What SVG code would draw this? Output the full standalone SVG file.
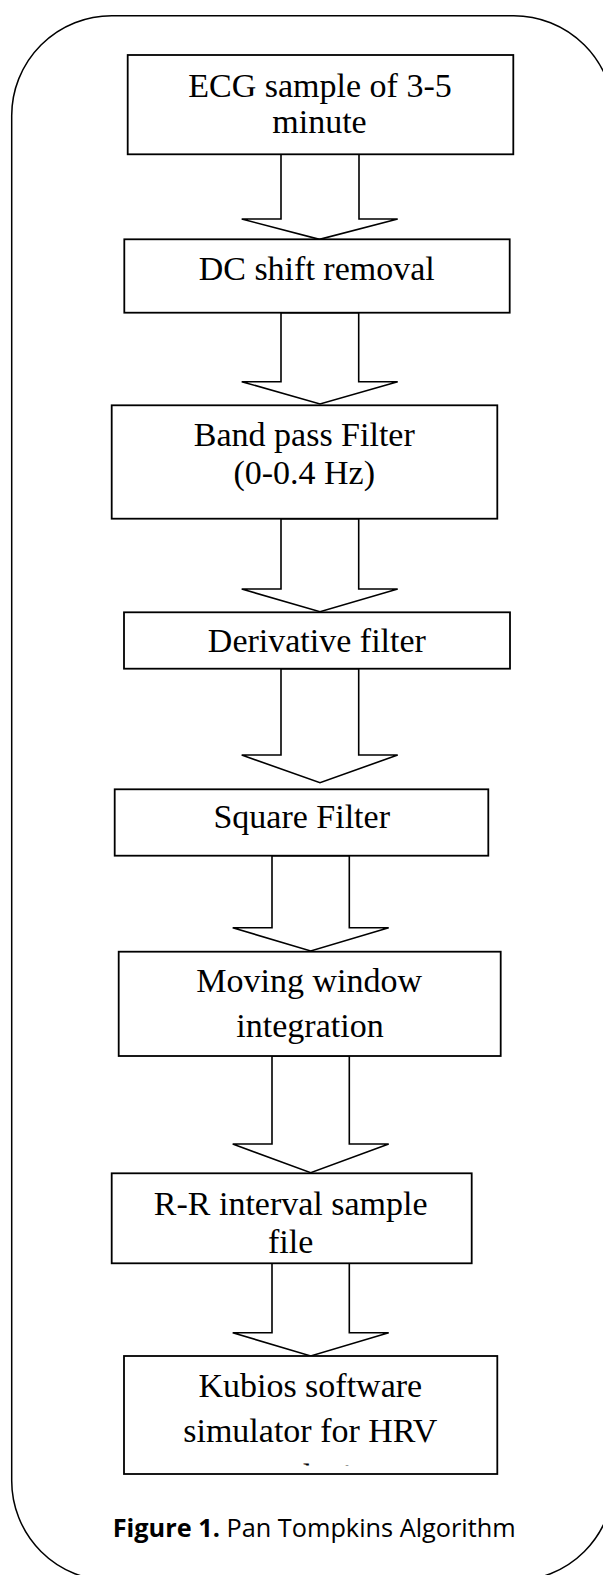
<svg xmlns="http://www.w3.org/2000/svg" width="603" height="1575" viewBox="0 0 603 1575">
<style>
.frame{fill:none;stroke:#000;stroke-width:1.5}
.box{fill:#fff;stroke:#000;stroke-width:1.8}
.arr{fill:#fff;stroke:#000;stroke-width:1.6;stroke-linejoin:miter}
.lbl{font-family:"Liberation Serif","Times New Roman",serif;font-size:34px;fill:#000;text-anchor:middle}
.cap{font-family:"Open Sans","Noto Sans",sans-serif;font-size:25.3px;fill:#000}
</style>
<defs>
<clipPath id="kclip"><rect x="124" y="1356" width="374" height="109.5"/></clipPath>
</defs>
<rect class="frame" x="11.7" y="15.7" width="602" height="1565" rx="100" ry="100"/>
<g id="connectors">
<polygon class="arr" points="281,154.3 281,219 241.7,219 319.5,239.3 397.7,219 359,219 359,154.3"/>
<polygon class="arr" points="281,312.7 281,381.7 241.7,381.7 320,404 397.7,381.7 358.7,381.7 358.7,312.7"/>
<polygon class="arr" points="281,518.7 281,589 241.7,589 320,611.7 397.7,589 358.7,589 358.7,518.7"/>
<polygon class="arr" points="281,668.7 281,755 241.7,755 320,782.7 397.7,755 358.7,755 358.7,668.7"/>
<polygon class="arr" points="272,855.7 272,927.7 232.7,927.7 310.7,951 388.7,927.7 349.3,927.7 349.3,855.7"/>
<polygon class="arr" points="272,1056 272,1144 232.7,1144 310.7,1172.7 388.7,1144 349.3,1144 349.3,1056"/>
<polygon class="arr" points="272,1263.3 272,1332.7 232.7,1332.7 310.7,1356 388.7,1332.7 349.3,1332.7 349.3,1263.3"/>
</g>
<g id="n1">
<rect class="box" x="127.7" y="55" width="385.6" height="99.3"/>
<text class="lbl" x="320" y="96.7">ECG sample of 3-5</text>
<text class="lbl" x="319.5" y="133.3">minute</text>
</g>
<g id="n2">
<rect class="box" x="124.3" y="239.3" width="385.4" height="73.4"/>
<text class="lbl" x="316.7" y="280">DC shift removal</text>
</g>
<g id="n3">
<rect class="box" x="111.7" y="405.3" width="385.6" height="113.4"/>
<text class="lbl" x="304.3" y="445.7">Band pass Filter</text>
<text class="lbl" x="304.2" y="484">(0-0.4 Hz)</text>
</g>
<g id="n4">
<rect class="box" x="124" y="612.3" width="386" height="56.4"/>
<text class="lbl" x="316.9" y="652.3">Derivative filter</text>
</g>
<g id="n5">
<rect class="box" x="114.7" y="789.3" width="373.6" height="66.4"/>
<text class="lbl" x="301.7" y="828.3">Square Filter</text>
</g>
<g id="n6">
<rect class="box" x="118.7" y="951.7" width="382" height="104.3"/>
<text class="lbl" x="309.2" y="991.7">Moving window</text>
<text class="lbl" x="310" y="1036.7">integration</text>
</g>
<g id="n7">
<rect class="box" x="111.7" y="1173.3" width="360" height="90"/>
<text class="lbl" x="290.7" y="1215">R-R interval sample</text>
<text class="lbl" x="290.7" y="1253.3">file</text>
</g>
<g id="n8">
<rect class="box" x="124" y="1356" width="373.3" height="118"/>
<text class="lbl" x="310.3" y="1396.7">Kubios software</text>
<text class="lbl" x="310.3" y="1441.7">simulator for HRV</text>
<text class="lbl" x="310.3" y="1486.5" clip-path="url(#kclip)">analysis</text>
</g>
<g id="caption">
<text class="cap" x="112.7" y="1537.3"><tspan font-weight="bold">Figure 1.</tspan> Pan Tompkins Algorithm</text>
</g>
</svg>
